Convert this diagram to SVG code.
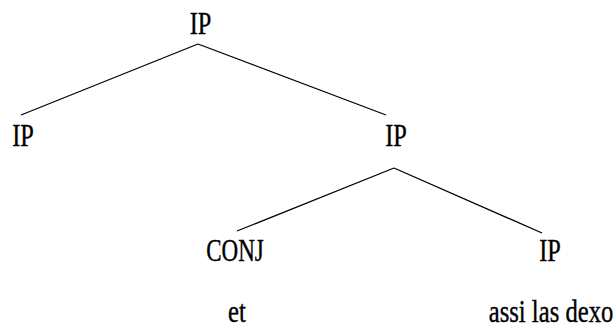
<svg xmlns="http://www.w3.org/2000/svg" width="613" height="328" viewBox="0 0 613 328">
<style>
text{font-family:"Liberation Serif","Times New Roman",serif;font-size:32px;fill:#000;stroke:#000;stroke-width:0.4;text-anchor:middle}
line{stroke:#000;stroke-width:1.3}
</style>
<rect width="613" height="328" fill="#fff"/>
<g id="connectors">
<line x1="198" y1="44" x2="21" y2="115"/>
<line x1="198" y1="44" x2="386" y2="115"/>
<line x1="394" y1="168" x2="237" y2="231"/>
<line x1="394" y1="168" x2="542" y2="233"/>
</g>
<g id="n-root"><text transform="translate(200.5,34) scale(0.76,1)">IP</text></g>
<g id="n-ip-left"><text transform="translate(23,146) scale(0.76,1)">IP</text></g>
<g id="n-ip-right"><text transform="translate(396,146) scale(0.76,1)">IP</text></g>
<g id="n-conj"><text transform="translate(235,261) scale(0.72,1)">CONJ</text></g>
<g id="n-ip-low"><text transform="translate(550,261) scale(0.76,1)">IP</text></g>
<g id="n-et"><text transform="translate(237,322) scale(0.77,1)">et</text></g>
<g id="n-assi"><text transform="translate(551,322) scale(0.77,1)">assi las dexo</text></g>
</svg>
